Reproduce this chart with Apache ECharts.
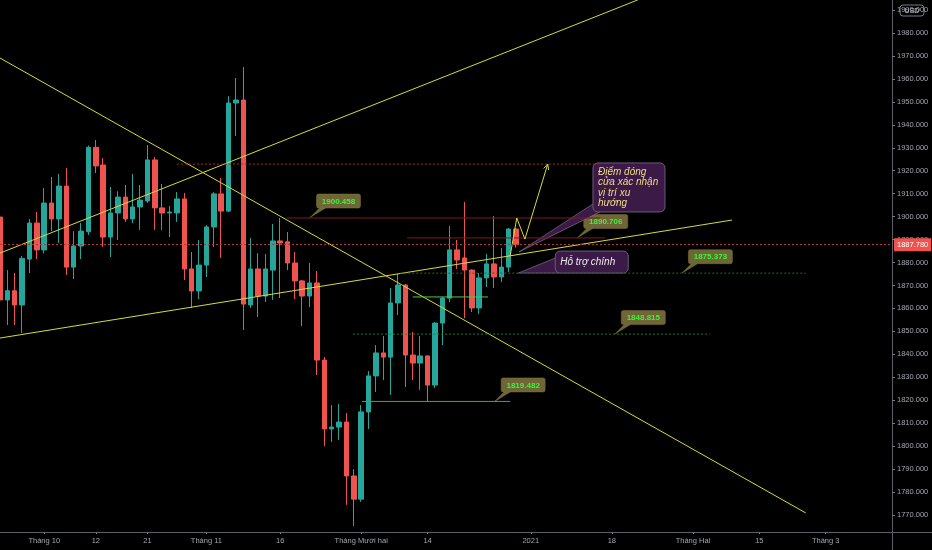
<!DOCTYPE html>
<html>
<head>
<meta charset="utf-8">
<script src="https://cdn.jsdelivr.net/npm/echarts@6/dist/echarts.min.js"></script>
<style>
html, body { margin: 0; padding: 0; background: #000; }
#chart { width: 932px; height: 550px; }
</style>
</head>
<body>
<div id="chart"></div>
<script>
// daily candles, XAU/USD, 23 Sep - 31 Dec 2020
var dates = ['2020-09-23','2020-09-24','2020-09-25','2020-09-28','2020-09-29','2020-09-30',
  '2020-10-01','2020-10-02','2020-10-05','2020-10-06','2020-10-07','2020-10-08','2020-10-09',
  '2020-10-12','2020-10-13','2020-10-14','2020-10-15','2020-10-16','2020-10-19','2020-10-20',
  '2020-10-21','2020-10-22','2020-10-23','2020-10-26','2020-10-27','2020-10-28','2020-10-29',
  '2020-10-30','2020-11-02','2020-11-03','2020-11-04','2020-11-05','2020-11-06','2020-11-09',
  '2020-11-10','2020-11-11','2020-11-12','2020-11-13','2020-11-16','2020-11-17','2020-11-18',
  '2020-11-19','2020-11-20','2020-11-23','2020-11-24','2020-11-25','2020-11-26','2020-11-27',
  '2020-11-30','2020-12-01','2020-12-02','2020-12-03','2020-12-04','2020-12-07','2020-12-08',
  '2020-12-09','2020-12-10','2020-12-11','2020-12-14','2020-12-15','2020-12-16','2020-12-17',
  '2020-12-18','2020-12-21','2020-12-22','2020-12-23','2020-12-24','2020-12-28','2020-12-29',
  '2020-12-30','2020-12-31'];
var opens = [1899.8,1863.7,1867.7,1861.5,1881.5,1897.2,1885.5,1905.9,1899.0,1913.3,1878.0,1887.2,
  1893.4,1930.2,1922.5,1891.1,1901.6,1908.5,1899.0,1904.2,1906.8,1924.7,1903.8,1901.6,1901.6,
  1907.7,1877.2,1867.6,1878.9,1895.5,1909.9,1902.4,1949.5,1950.8,1861.5,1877.2,1865.4,1876.7,
  1889.4,1889.0,1879.8,1872.0,1865.4,1871.1,1837.5,1807.5,1808.3,1810.5,1787.0,1776.9,1814.9,
  1830.6,1840.6,1838.8,1862.4,1870.2,1839.7,1836.2,1839.3,1826.6,1853.6,1864.5,1885.5,1882.0,
  1876.7,1860.2,1873.3,1879.4,1873.7,1878.0,1894.6];
var highs = [1905.0,1876.7,1875.4,1882.8,1899.0,1902.0,1912.5,1917.3,1918.6,1921.2,1893.7,1897.2,
  1931.0,1933.4,1925.5,1912.9,1911.0,1913.8,1918.6,1913.8,1931.2,1926.0,1914.2,1904.6,1910.7,
  1910.3,1884.6,1889.8,1896.3,1910.7,1916.8,1952.5,1960.4,1965.2,1890.7,1884.1,1883.7,1896.8,
  1899.4,1893.3,1884.6,1872.4,1879.8,1876.3,1838.8,1817.9,1818.4,1814.4,1790.0,1817.9,1832.7,
  1844.0,1848.0,1868.9,1875.0,1870.6,1849.7,1848.0,1839.5,1854.0,1865.0,1895.9,1889.8,1906.4,
  1877.0,1875.4,1883.7,1900.3,1886.3,1895.0,1895.0];
var lows = [1856.3,1852.8,1852.8,1849.3,1875.4,1881.5,1884.0,1893.7,1888.5,1874.6,1872.8,1881.5,
  1892.0,1919.0,1886.8,1882.4,1889.8,1897.7,1897.2,1894.2,1905.9,1894.2,1894.2,1891.1,1897.7,
  1872.4,1860.2,1864.1,1873.7,1886.8,1882.0,1902.0,1935.1,1850.6,1860.2,1856.3,1862.8,1863.7,
  1864.5,1876.7,1864.1,1852.3,1860.6,1831.0,1800.0,1801.8,1802.7,1774.4,1765.2,1775.7,1807.5,
  1823.6,1828.8,1822.3,1857.1,1825.8,1828.8,1824.5,1819.2,1825.3,1844.0,1862.8,1877.2,1855.8,
  1858.4,1857.6,1869.3,1868.9,1871.5,1875.9,1886.5];
var closes = [1863.7,1867.7,1861.5,1881.8,1897.2,1885.5,1905.9,1899.0,1913.3,1878.0,1887.2,1893.7,
  1930.2,1922.1,1891.1,1901.6,1908.5,1899.0,1904.2,1907.2,1924.7,1903.8,1901.6,1902.0,1907.7,
  1877.2,1867.6,1878.9,1895.5,1909.9,1902.4,1949.5,1950.8,1861.9,1877.2,1865.4,1877.2,1889.4,
  1888.5,1879.8,1872.0,1865.4,1871.1,1837.5,1807.5,1808.3,1810.5,1787.0,1776.9,1814.9,1830.6,
  1840.6,1838.8,1862.4,1870.2,1839.7,1836.2,1839.3,1826.6,1853.6,1864.5,1885.5,1881.1,1876.7,
  1860.2,1873.3,1879.4,1873.7,1878.0,1894.6,1887.78];
var lastPrice = 1887.78;

// bottom axis labels: [bar index, text]
var xTicks = [[6,'Tháng 10'],[13,'12'],[20,'21'],[28,'Tháng 11'],[38,'16'],[49,'Tháng Mười hai'],
  [58,'14'],[72,'2021'],[83,'18'],[94,'Tháng Hai'],[103,'15'],[112,'Tháng 3']];

// drawings, in [bar index, price]
var trendLines = [
  [[0, 1969.1], [109.3, 1770.9]],
  [[0, 1884.1], [86.5, 1994.4]],
  [[0, 1847.1], [99.3, 1898.5]]
];
var pathLine = [[69.2, 1882.8], [70.1, 1899.4], [71.2, 1890.2], [74.3, 1922.9]];
// [from index, to index, price]
var levels = [
  [24.0, 81.4, 1922.9],
  [38.9, 81.4, 1899.4],
  [55.2, 82.1, 1890.706],
  [54.3, 109.3, 1875.373],
  [47.9, 96.3, 1848.815],
  [49.1, 69.2, 1819.482],
  [56.0, 66.2, 1865.0]
];
var levelStyles = [
  {color: '#a52b2b', type: [2, 2]},
  {color: '#7a1c24', type: 'solid'},
  {color: '#7a1c24', type: 'solid'},
  {color: '#1f6a2a', type: [2, 2]},
  {color: '#2a7a2e', type: [2, 2]},
  {color: '#3fae3f', type: 'solid'},
  {color: '#4cc84c', type: 'solid'}
];
// price tags: tip [index, price], text
var priceTags = [
  [42.05, 1899.6, '1900.458'],
  [78.3, 1890.7, '1890.706'],
  [92.5, 1875.373, '1875.373'],
  [83.4, 1848.815, '1848.815'],
  [67.1, 1819.482, '1819.482']
];
// callouts: tip [index, price], text
var callouts = [
  [70.4, 1884.6, 'Điểm đóng\ncửa xác nhận\nvị trí xu\nhướng'],
  [70.3, 1875.4, 'Hỗ trợ chính']
];

var cats = dates.slice();
var d = new Date(Date.UTC(2021, 0, 1));
while (cats.length < 122) {
  var wd = d.getUTCDay();
  if (wd > 0 && wd < 6) cats.push(d.toISOString().slice(0, 10));
  d.setUTCDate(d.getUTCDate() + 1);
}
var tickMap = {};
xTicks.forEach(function (t) { tickMap[t[0]] = t[1]; });
var showTick = function (i) { return tickMap[i] !== undefined; };

var candleData = opens.map(function (o, i) { return [o, closes[i], lows[i], highs[i]]; });

var YELLOW = '#d9d93c';
var series = [{
  type: 'candlestick',
  xAxisIndex: 0,
  data: candleData,
  barWidth: 5,
  itemStyle: {
    color: '#26a69a', color0: '#ef5350',
    borderColor: '#26a69a', borderColor0: '#ef5350', borderWidth: 1
  },
  markLine: {
    silent: true,
    symbol: 'none',
    animation: false,
    lineStyle: {color: '#b03636', type: [2, 2], width: 1},
    label: {
      position: 'end', distance: 2, formatter: lastPrice.toFixed(3),
      backgroundColor: '#ef5350', color: '#fff', fontSize: 7.5,
      fontFamily: 'Liberation Sans', padding: [3, 3, 2, 3]
    },
    data: [{yAxis: lastPrice}]
  }
}];

function drawLine(pts, color, type) {
  series.push({
    type: 'line', xAxisIndex: 1, yAxisIndex: 0, data: pts,
    symbol: 'none', silent: true, animation: false, clip: true,
    lineStyle: {color: color, width: 1, type: type || 'solid'}
  });
}
trendLines.forEach(function (l) { drawLine(l, YELLOW); });
levels.forEach(function (l, i) {
  drawLine([[l[0], l[2]], [l[1], l[2]]], levelStyles[i].color, levelStyles[i].type);
});
drawLine(pathLine, YELLOW);

var chart = echarts.init(document.getElementById('chart'));
chart.setOption({
  backgroundColor: '#000',
  animation: false,
  grid: {left: 0, right: 40, top: 0, bottom: 18},
  xAxis: [{
    type: 'category',
    data: cats,
    boundaryGap: false,
    axisLine: {show: false, onZero: false},
    splitLine: {show: false},
    axisTick: {show: true, length: 2, interval: showTick, lineStyle: {color: '#787b86'}},
    axisLabel: {
      interval: showTick,
      formatter: function (v, i) { return tickMap[i] || ''; },
      color: '#a3a6af', fontSize: 7.5, fontFamily: 'Liberation Sans', margin: 5
    }
  }, {
    type: 'value', min: 0, max: 121, show: false,
    axisLine: {onZero: false}
  }],
  yAxis: {
    type: 'value',
    position: 'right',
    min: 1762.59,
    max: 1994.38,
    splitNumber: 23,
    minInterval: 10,
    maxInterval: 10,
    splitLine: {show: false},
    axisLine: {show: false, onZero: false},
    axisTick: {show: true, length: 3, lineStyle: {color: '#787b86'}},
    axisLabel: {
      formatter: function (v) { return v.toFixed(3); },
      color: '#a3a6af', fontSize: 7.5, fontFamily: 'Liberation Sans', margin: 5,
      showMinLabel: false, showMaxLabel: false
    }
  },
  series: series
});

// annotations, placed from data coordinates
function px(p) { return chart.convertToPixel({xAxisIndex: 1, yAxisIndex: 0}, p); }
var g = [];
var arrEnd = px(pathLine[3]), arrPrev = px(pathLine[2]);
var ang = Math.atan2(arrEnd[1] - arrPrev[1], arrEnd[0] - arrPrev[0]);
[0.45, -0.45].forEach(function (a) {
  g.push({type: 'line', silent: true, shape: {
    x1: arrEnd[0], y1: arrEnd[1],
    x2: arrEnd[0] - 6 * Math.cos(ang + a), y2: arrEnd[1] - 6 * Math.sin(ang + a)
  }, style: {stroke: YELLOW, lineWidth: 1}});
});

priceTags.forEach(function (t) {
  var tip = px([t[0], t[1]]);
  var bx = tip[0] + 6.5, by = tip[1] - 23.5, w = 44, h = 14;
  g.push({type: 'polygon', silent: true, shape: {points: [[bx + 3, by + h], [bx + 9, by + h], tip]},
    style: {fill: '#6e6634', stroke: '#7d7540', lineWidth: 0.5}});
  g.push({type: 'rect', silent: true, shape: {x: bx, y: by, width: w, height: h, r: 2},
    style: {fill: '#6e6634', stroke: '#7d7540', lineWidth: 0.5}});
  g.push({type: 'text', silent: true, x: bx + w / 2, y: by + h / 2 + 0.5, style: {
    text: t[2], fill: '#3ff03f', fontSize: 8, fontWeight: 'bold', fontFamily: 'Liberation Sans',
    align: 'center', verticalAlign: 'middle'}});
});

var boxes = [
  {dx: 74, dy: -89, w: 72, h: 49, color: '#f0dc82', base: function (bx, by, w, h) { return [[bx, by + h - 8], [bx + 7, by + h]]; }},
  {dx: 37, dy: -22, w: 73, h: 22, color: '#ececec', base: function (bx, by, w, h) { return [[bx, by + 7], [bx + 4, by + h]]; }}
];
callouts.forEach(function (c, i) {
  var tip = px([c[0], c[1]]);
  var b = boxes[i];
  var bx = tip[0] + b.dx, by = tip[1] + b.dy;
  var base = b.base(bx, by, b.w, b.h);
  g.push({type: 'polygon', silent: true, shape: {points: [base[0], base[1], tip]},
    style: {fill: '#3c1a48', stroke: '#8a8090', lineWidth: 0.6}});
  g.push({type: 'rect', silent: true, shape: {x: bx, y: by, width: b.w, height: b.h, r: 5},
    style: {fill: '#3c1a48', stroke: '#6c5a78', lineWidth: 1}});
  g.push({type: 'text', silent: true, x: bx + 5, y: by + b.h / 2 + 0.5, style: {
    text: c[2], fill: b.color, fontSize: 10, fontStyle: 'italic', fontFamily: 'Liberation Sans',
    lineHeight: 10.5, align: 'left', verticalAlign: 'middle'}});
});

// pane borders and currency badge
g.push({type: 'line', silent: true, shape: {x1: 892.5, y1: 0, x2: 892.5, y2: 550}, style: {stroke: '#5d606b', lineWidth: 1}});
g.push({type: 'line', silent: true, shape: {x1: 0, y1: 532.5, x2: 932, y2: 532.5}, style: {stroke: '#5d606b', lineWidth: 1}});
g.push({type: 'rect', silent: true, shape: {x: 900, y: 5, width: 24, height: 11, r: 3},
  style: {fill: '#000', stroke: '#787b86', lineWidth: 1}});
g.push({type: 'text', silent: true, x: 912, y: 10.8, style: {text: 'USD', fill: '#d1d4dc', fontSize: 7,
  fontFamily: 'Liberation Sans', align: 'center', verticalAlign: 'middle'}});

chart.setOption({graphic: g});
</script>
</body>
</html>
